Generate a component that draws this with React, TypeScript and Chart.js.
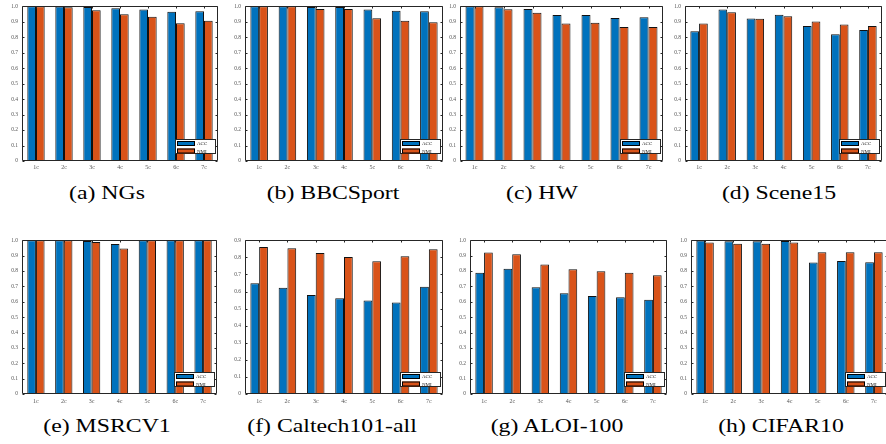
import React, { useEffect, useRef } from 'react';
import { Chart, registerables } from 'chart.js';

Chart.register(...registerables);

const categories = ['1c', '2c', '3c', '4c', '5c', '6c', '7c'];
const seriesNames = ['ACC', 'NMI'];
const yTickStep = 0.1;

const ngsACC = [1.0, 0.998, 0.996, 0.987, 0.979, 0.964, 0.968];
const ngsNMI = [1.0, 0.994, 0.974, 0.949, 0.932, 0.891, 0.906];

const bbcACC = [1.0, 1.0, 0.996, 0.996, 0.979, 0.972, 0.968];
const bbcNMI = [1.0, 1.0, 0.983, 0.983, 0.923, 0.906, 0.897];

const hwACC = [1.0, 0.994, 0.983, 0.944, 0.944, 0.925, 0.929];
const hwNMI = [1.0, 0.981, 0.959, 0.889, 0.893, 0.867, 0.867];

const sceneACC = [0.839, 0.979, 0.921, 0.946, 0.872, 0.82, 0.846];
const sceneNMI = [0.889, 0.961, 0.919, 0.936, 0.901, 0.882, 0.872];

const msrcACC = [1.0, 1.0, 0.996, 0.976, 1.0, 1.0, 1.0];
const msrcNMI = [1.0, 1.0, 0.989, 0.946, 1.0, 1.0, 1.0];

const caltechACC = [0.649, 0.622, 0.58, 0.561, 0.547, 0.536, 0.628];
const caltechNMI = [0.861, 0.854, 0.825, 0.802, 0.777, 0.807, 0.848];

const aloiACC = [0.789, 0.815, 0.695, 0.656, 0.637, 0.63, 0.613];
const aloiNMI = [0.92, 0.91, 0.843, 0.811, 0.798, 0.789, 0.772];

const cifarACC = [0.998, 0.994, 0.994, 0.996, 0.856, 0.865, 0.858];
const cifarNMI = [0.985, 0.978, 0.978, 0.985, 0.923, 0.923, 0.923];

const captions = [
  '(a) NGs', '(b) BBCSport', '(c) HW', '(d) Scene15',
  '(e) MSRCV1', '(f) Caltech101-all', '(g) ALOI-100', '(h) CIFAR10',
];
const yMaxes = [1, 1, 1, 1, 1, 0.9, 1, 1];
const accSeries = [ngsACC, bbcACC, hwACC, sceneACC, msrcACC, caltechACC, aloiACC, cifarACC];
const nmiSeries = [ngsNMI, bbcNMI, hwNMI, sceneNMI, msrcNMI, caltechNMI, aloiNMI, cifarNMI];

// layout (plot-area boxes, caption positions)
const boxes = [
  { L: 22, T: 5, W: 196, H: 156, cx: 107, cy: 183, xp: 3 },
  { L: 245, T: 5, W: 198, H: 156, cx: 333, cy: 183, xp: 3 },
  { L: 460, T: 5, W: 203, H: 156, cx: 542, cy: 183, xp: 3 },
  { L: 685, T: 5, W: 197, H: 156, cx: 779, cy: 183, xp: 3 },
  { L: 22, T: 239, W: 195, H: 155, cx: 107, cy: 416, xp: 4 },
  { L: 245, T: 239, W: 198, H: 155, cx: 332, cy: 416, xp: 4 },
  { L: 470, T: 239, W: 197, H: 155, cx: 557, cy: 416, xp: 4 },
  { L: 691, T: 239, W: 197, H: 155, cx: 781, cy: 416, xp: 4 },
];

const BLUE = '#0072BD';
const ORANGE = '#D95319';
const AXIS = '#262626';
const PADL = 24;
const PADT = 6;
const PADR = 6;
const XH = 16;
const FONT = "'Liberation Serif', 'Times New Roman', serif";

const boxPlugin = {
  id: 'matlabBox',
  afterDatasetsDraw(chart: any) {
    const { ctx, chartArea } = chart;
    const { left, right, top, bottom } = chartArea;
    const x = chart.scales.x;
    const y = chart.scales.y;
    ctx.save();
    ctx.strokeStyle = AXIS;
    ctx.lineWidth = 1;
    ctx.beginPath();
    const l = Math.round(left) + 0.5;
    const r = Math.round(right) - 0.5;
    const t = Math.round(top) + 0.5;
    const b = Math.round(bottom) - 0.5;
    ctx.moveTo(l, t); ctx.lineTo(r, t); ctx.lineTo(r, b); ctx.lineTo(l, b); ctx.closePath();
    y.ticks.forEach((tk: any) => {
      const py = Math.round(y.getPixelForValue(tk.value)) + 0.5;
      ctx.moveTo(l, py); ctx.lineTo(l + 2, py);
      ctx.moveTo(r, py); ctx.lineTo(r - 2, py);
    });
    x.ticks.forEach((_tk: any, i: number) => {
      const px = Math.round(x.getPixelForTick(i)) + 0.5;
      ctx.moveTo(px, t); ctx.lineTo(px, t + 2);
    });
    ctx.stroke();

    // legend box
    const bw = 41;
    const bh = 15;
    const bx = Math.round(right) - 2 - bw;
    const by = Math.round(bottom) - 7 - bh;
    ctx.fillStyle = '#ffffff';
    ctx.fillRect(bx, by, bw, bh);
    ctx.strokeStyle = AXIS;
    ctx.strokeRect(bx + 0.5, by + 0.5, bw - 1, bh - 1);
    const ds = chart.data.datasets;
    ds.forEach((d: any, i: number) => {
      const sy = by + 2 + i * 7.5;
      ctx.fillStyle = d.backgroundColor;
      ctx.fillRect(bx + 2, sy, 18, 5);
      ctx.strokeStyle = '#000';
      ctx.strokeRect(bx + 2.5, sy + 0.5, 17, 4);
      ctx.fillStyle = AXIS;
      ctx.font = `5px ${FONT}`;
      ctx.textBaseline = 'middle';
      ctx.textAlign = 'left';
      ctx.fillText(d.label, bx + 22, sy + 2.7);
    });
    ctx.restore();
  },
};

function Panel({ idx }: { idx: number }) {
  const ref = useRef<HTMLCanvasElement>(null);
  const b = boxes[idx];
  const cw = b.W + PADL + PADR;
  const ch = b.H + PADT + XH;
  useEffect(() => {
    const chart = new Chart(ref.current as HTMLCanvasElement, {
      type: 'bar',
      data: {
        labels: categories,
        datasets: [
          {
            label: seriesNames[0],
            data: accSeries[idx],
            backgroundColor: BLUE,
            borderColor: '#111',
            borderWidth: 1,
            categoryPercentage: 0.62,
            barPercentage: 1,
          },
          {
            label: seriesNames[1],
            data: nmiSeries[idx],
            backgroundColor: ORANGE,
            borderColor: '#111',
            borderWidth: 1,
            categoryPercentage: 0.62,
            barPercentage: 1,
          },
        ],
      },
      options: {
        animation: false,
        responsive: false,
        maintainAspectRatio: false,
        devicePixelRatio: 1,
        layout: { padding: { left: 0, top: PADT, right: PADR, bottom: 0 } },
        plugins: { legend: { display: false }, tooltip: { enabled: false }, title: { display: false } },
        scales: {
          x: {
            grid: { display: false, drawTicks: false },
            border: { display: false },
            ticks: { color: '#555', font: { size: 6, family: FONT }, padding: b.xp, maxRotation: 0 },
            afterFit: (s: any) => { s.height = XH; },
          },
          y: {
            min: 0,
            max: yMaxes[idx],
            grid: { display: false, drawTicks: false },
            border: { display: false },
            ticks: { stepSize: yTickStep, color: '#555', font: { size: 5.5, family: FONT }, padding: 4 },
            afterFit: (s: any) => { s.width = PADL; },
          },
        },
      },
      plugins: [boxPlugin],
    } as any);
    return () => chart.destroy();
  }, [idx]);
  return (
    <>
      <canvas
        ref={ref}
        width={cw}
        height={ch}
        style={{ position: 'absolute', left: b.L - PADL, top: b.T - PADT, width: cw, height: ch }}
      />
      <div
        style={{
          position: 'absolute',
          left: b.cx - 150,
          top: b.cy,
          width: 300,
          textAlign: 'center',
          fontFamily: FONT,
          fontSize: 19,
          lineHeight: '19px',
          color: '#000',
          whiteSpace: 'nowrap',
          transform: 'scaleX(1.25)',
          transformOrigin: 'center',
        }}
      >
        {captions[idx]}
      </div>
    </>
  );
}

export default function App() {
  return (
    <div
      style={{
        position: 'fixed',
        left: 0,
        top: 0,
        width: 886,
        height: 444,
        overflow: 'hidden',
        background: '#fff',
      }}
    >
      {captions.map((_c, i) => (
        <Panel key={i} idx={i} />
      ))}
    </div>
  );
}
